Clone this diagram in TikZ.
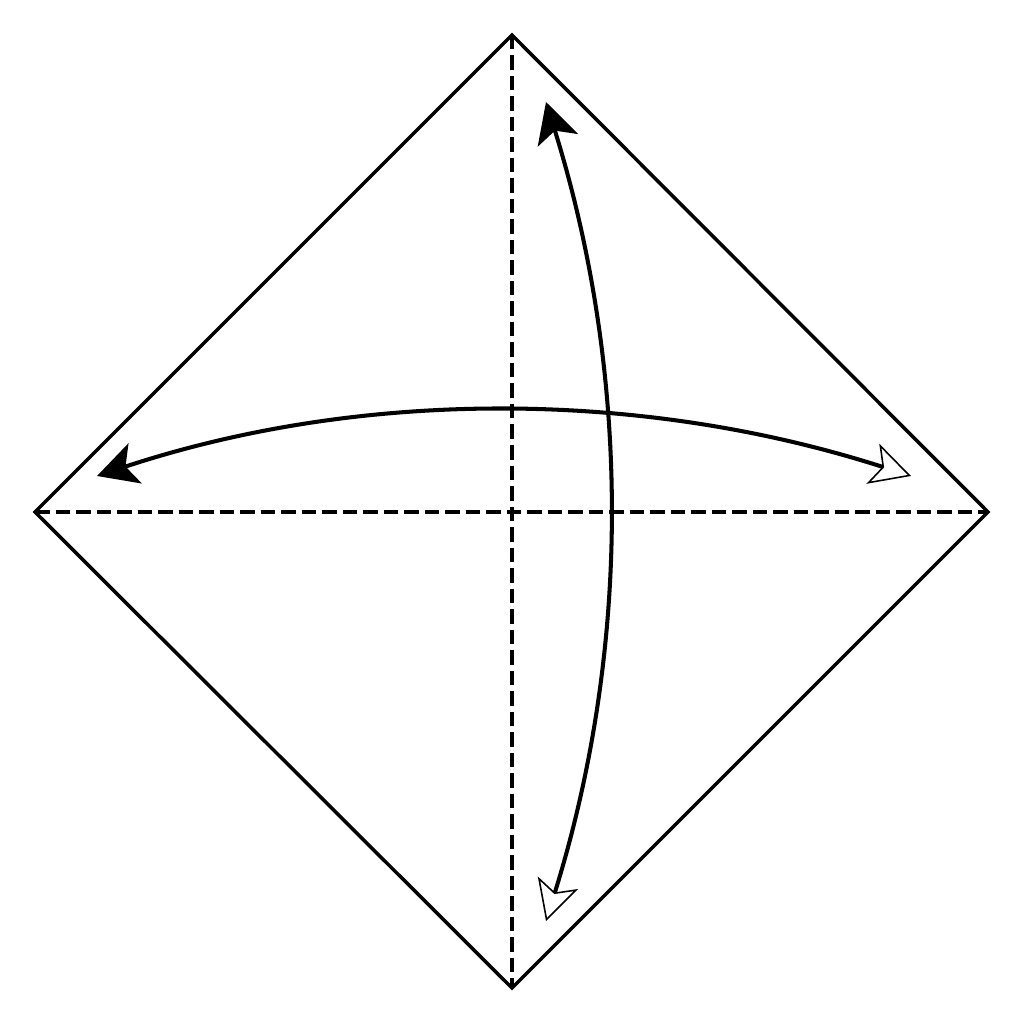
\documentclass[tikz,border=0pt]{standalone}
\usepackage{tikz}
\usetikzlibrary{arrows.meta}
\usetikzlibrary{positioning}

\begin{document}
\begin{tikzpicture}[edge/.style={line width=1pt},crease/.style={line width=1.1pt,dash pattern=on 0.145cm off 0.06cm},fold/.style={line width=1.15pt,{Stealth[length=0.4cm,width=0.42cm,inset=0.1cm]}-{Stealth[open,fill=white,line width=0.45pt,length=0.4cm,width=0.42cm,inset=0.1cm]}}]
  \useasboundingbox (0,0) rectangle (10.24,10.24);
  \coordinate (top) at (5.12,9.89);
  \coordinate (right) at (9.88,5.12);
  \coordinate (bottom) at (5.12,0.36);
  \coordinate (left) at (0.35,5.12);

  \coordinate (lt) at (0.97,5.48);
  \coordinate (rt) at (9.11,5.48);
  \coordinate (tt) at (5.46,9.22);
  \coordinate (bt) at (5.46,1.03);

  \draw[edge,line join=miter](top)--(right)--(bottom)--(left)--cycle;
  \draw[crease](top)--(bottom);
  \draw[crease](left)--(right);
  \draw[fold](lt) .. controls (3.6,6.35) and (6.4,6.35) .. (rt);
  \draw[fold](tt) .. controls (6.31,6.49) and (6.31,3.76) .. (bt);
\end{tikzpicture}
\end{document}
